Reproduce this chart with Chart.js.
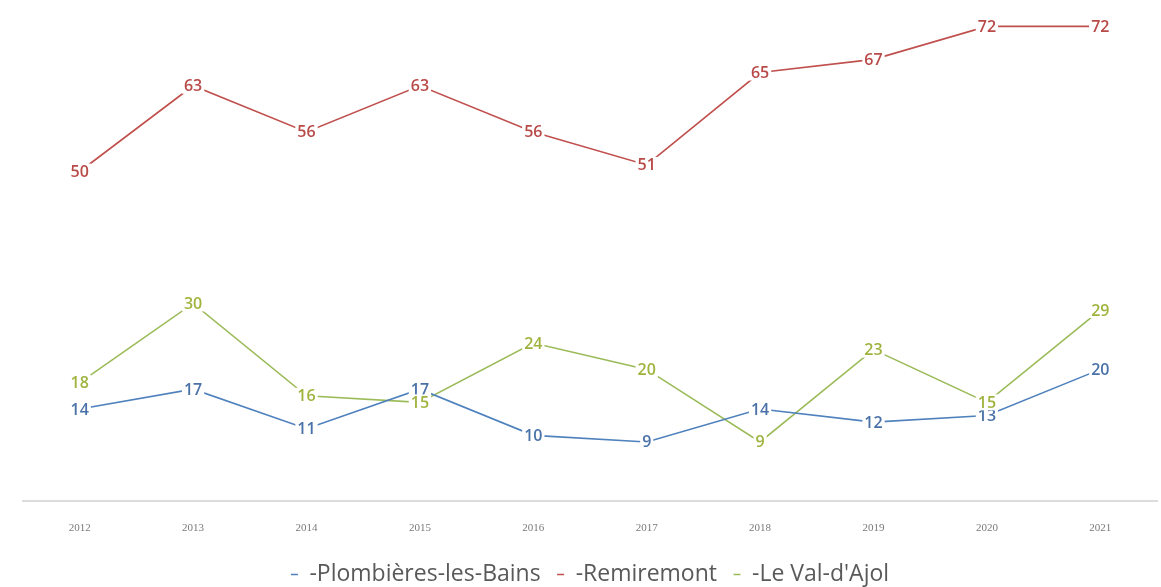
<!DOCTYPE html>
<html lang="fr">
<head>
<meta charset="UTF-8">
<title>Plombières / Remiremont / Le Val-d'Ajol</title>
<script src="https://cdn.jsdelivr.net/npm/chart.js"></script>
<style>
  html, body { margin: 0; padding: 0; background: #fff; }
  #wrap { width: 1161px; height: 587px; }
</style>
</head>
<body>
<div id="wrap"><canvas id="chart"></canvas></div>
<script>
const years = ['2012', '2013', '2014', '2015', '2016', '2017', '2018', '2019', '2020', '2021'];
const plombieres = [14, 17, 11, 17, 10, 9, 14, 12, 13, 20];
const remiremont = [50, 63, 56, 63, 56, 51, 65, 67, 72, 72];
const valDAjol = [18, 30, 16, 15, 24, 20, 9, 23, 15, 29];

const BLUE = '#4f81bd';
const RED = '#c0504d';
const GREEN = '#9bbb59';

// simple value labels centred on the points, white box hides the line under them
const pointLabels = {
  id: 'pointLabels',
  afterDatasetsDraw(chart) {
    const ctx = chart.ctx;
    ctx.save();
    ctx.font = '600 16px "Open Sans", sans-serif';
    ctx.textAlign = 'center';
    ctx.textBaseline = 'middle';
    chart.data.datasets.forEach((ds, i) => {
      const meta = chart.getDatasetMeta(i);
      meta.data.forEach((pt, j) => {
        const txt = String(ds.data[j]);
        const w = ctx.measureText(txt).width + 4;
        ctx.fillStyle = '#fff';
        ctx.fillRect(pt.x - w / 2, pt.y - 8, w, 16);
        ctx.fillStyle = ds.labelColor;
        ctx.fillText(txt, pt.x, pt.y + 1);
      });
    });
    ctx.restore();
  }
};

new Chart(document.getElementById('chart'), {
  type: 'line',
  data: {
    labels: years,
    datasets: [
      { label: 'Plombières-les-Bains', data: plombieres, borderColor: BLUE, labelColor: '#4a72a8' },
      { label: 'Remiremont', data: remiremont, borderColor: RED, labelColor: '#b84a48' },
      { label: "Le Val-d'Ajol", data: valDAjol, borderColor: GREEN, labelColor: '#9fb43e' }
    ]
  },
  options: {
    responsive: true,
    maintainAspectRatio: false,
    animation: false,
    layout: { padding: { left: 23, right: 4, top: 0, bottom: -9 } },
    elements: {
      line: { borderWidth: 1.6, tension: 0 },
      point: { radius: 0 }
    },
    scales: {
      x: {
        offset: true,
        grid: { display: false },
        border: { color: '#dcdcdc', width: 2 },
        ticks: { color: '#7a7a7a', font: { family: 'Liberation Serif', size: 11 }, padding: 12 }
      },
      y: { display: false, min: 0, max: 76 }
    },
    plugins: {
      tooltip: { enabled: false },
      legend: {
        position: 'bottom',
        labels: {
          usePointStyle: true,
          pointStyleWidth: 7,
          color: '#595959',
          font: { family: '"Open Sans", sans-serif', size: 23 },
          padding: 16.5,
          generateLabels(chart) {
            return chart.data.datasets.map((ds, i) => ({
              text: '-' + ds.label,
              strokeStyle: ds.borderColor,
              fillStyle: ds.borderColor,
              lineWidth: 1.5,
              pointStyle: 'line',
              fontColor: '#595959',
              datasetIndex: i
            }));
          }
        }
      }
    }
  },
  plugins: [pointLabels]
});
</script>
</body>
</html>
